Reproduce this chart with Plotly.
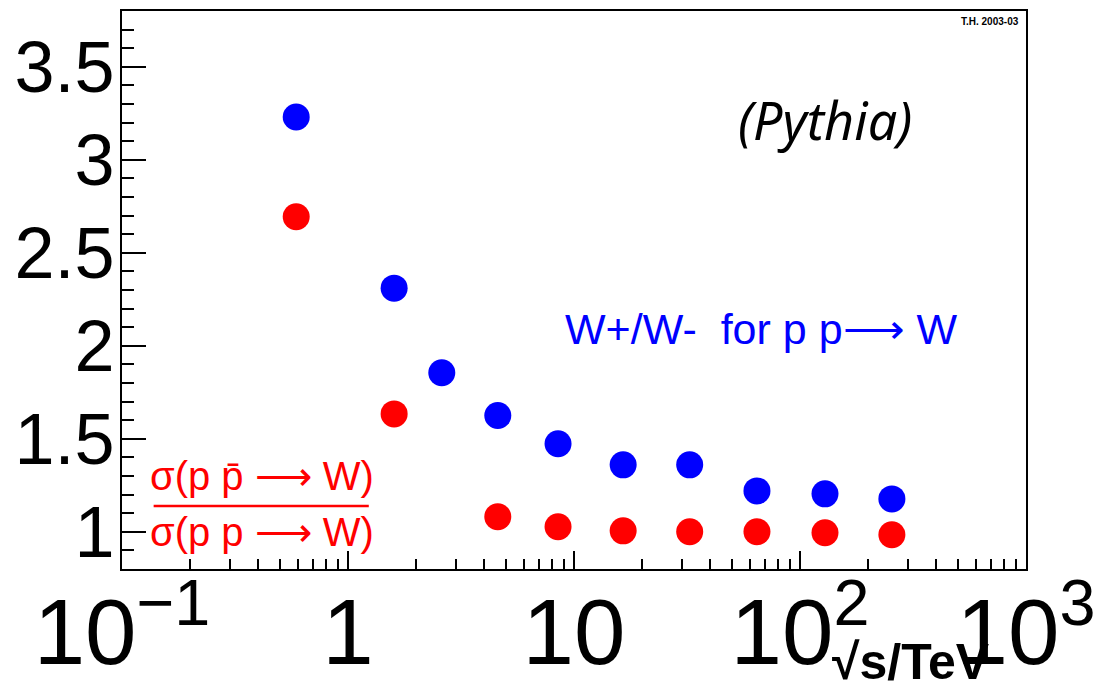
import plotly.graph_objects as go

# sqrt(s) in TeV and ratios
sqrt_s_wpm = [0.59, 1.6, 2.6, 4.6, 8.5, 16.5, 32.5, 64.5, 129, 255]
ratio_wpm = [3.23, 2.31, 1.855, 1.625, 1.473, 1.36, 1.36, 1.22, 1.204, 1.177]

sqrt_s_ppbar = [0.59, 1.6, 4.6, 8.5, 16.5, 32.5, 64.5, 129, 255]
ratio_ppbar = [2.694, 1.634, 1.081, 1.027, 1.005, 1.0, 1.0, 0.995, 0.984]

BLUE = "#0000ff"
RED = "#ff0000"

fig = go.Figure()
fig.add_trace(go.Scatter(x=sqrt_s_wpm, y=ratio_wpm, mode="markers",
                         marker=dict(color=BLUE, size=27, line=dict(width=0)),
                         showlegend=False))
fig.add_trace(go.Scatter(x=sqrt_s_ppbar, y=ratio_ppbar, mode="markers",
                         marker=dict(color=RED, size=27, line=dict(width=0)),
                         showlegend=False))

fig.update_layout(
    width=1102, height=687,
    margin=dict(l=122, r=76, t=11, b=118, autoexpand=False),
    paper_bgcolor="white", plot_bgcolor="white",
    font=dict(family="Liberation Sans, Arial, sans-serif", color="black"),
    xaxis=dict(type="log", range=[-1, 3], dtick=1, exponentformat="power",
               showgrid=False, zeroline=False,
               showline=True, linecolor="black", linewidth=2, mirror=True,
               ticks="inside", ticklen=18, tickwidth=1.5, tickcolor="black",
               minor=dict(ticks="inside", ticklen=10, tickwidth=1.5,
                          tickcolor="black", dtick="D1", showgrid=False),
               tickfont=dict(family="Liberation Sans, Arial", size=74),
               ticklabelstandoff=-14),
    yaxis=dict(range=[0.8, 3.8], dtick=0.5, tick0=0,
               showgrid=False, zeroline=False,
               showline=True, linecolor="black", linewidth=2, mirror=True,
               ticks="inside", ticklen=24, tickwidth=1.5, tickcolor="black",
               minor=dict(ticks="inside", ticklen=12, tickwidth=1.5,
                          tickcolor="black", dtick=0.1, showgrid=False),
               tickfont=dict(family="Liberation Sans, Arial", size=72),
               ticklabelstandoff=-9),
)

ann = [
    dict(text="<i>(Pythia)</i>", x=0.778, y=0.805, xref="paper", yref="paper",
         xanchor="center", yanchor="middle", showarrow=False,
         font=dict(family="Noto Sans", size=52, color="black")),
    dict(text="<b>T.H. 2003-03</b>", x=0.995, y=0.982, xref="paper", yref="paper",
         xanchor="right", yanchor="middle", showarrow=False,
         font=dict(family="Liberation Sans", size=10, color="black")),
    dict(text="W+/W-  for p p\u27f6 W", x=0.707, y=0.43, xref="paper", yref="paper",
         xanchor="center", yanchor="middle", showarrow=False,
         font=dict(family="Liberation Sans", size=43, color=BLUE)),
    dict(text="\u03c3(p p\u0304 \u27f6 W)", x=0.155, y=0.166, xref="paper", yref="paper",
         xanchor="center", yanchor="middle", showarrow=False,
         font=dict(family="Liberation Sans", size=40, color=RED)),
    dict(text="\u03c3(p p \u27f6 W)", x=0.155, y=0.067, xref="paper", yref="paper",
         xanchor="center", yanchor="middle", showarrow=False,
         font=dict(family="Liberation Sans", size=40, color=RED)),
    dict(text="<b>\u221as/TeV</b>", x=0.962, y=-0.167, xref="paper", yref="paper",
         xanchor="right", yanchor="middle", showarrow=False,
         font=dict(family="Liberation Sans", size=50, color="black")),
]
fig.update_layout(annotations=ann)
fig.add_shape(type="line", xref="paper", yref="paper", x0=0.035, x1=0.273,
              y0=0.113, y1=0.113, line=dict(color=RED, width=2.5))

fig.write_html("out.html", config={"displayModeBar": False},
               post_script="document.body.style.margin='0';")
